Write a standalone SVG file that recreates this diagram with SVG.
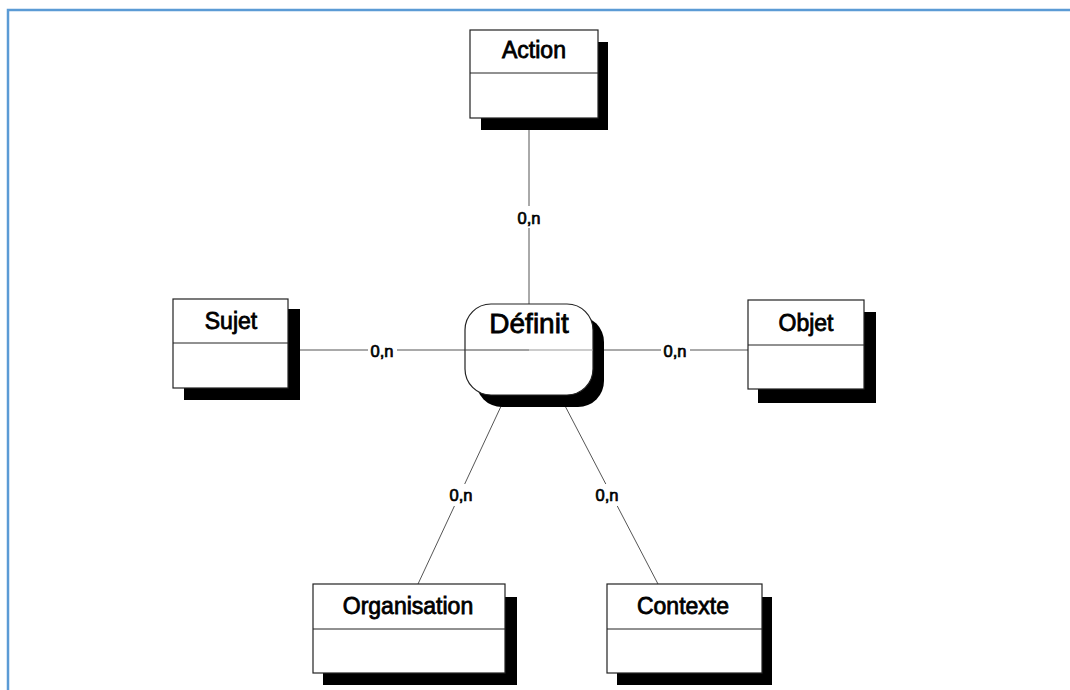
<svg xmlns="http://www.w3.org/2000/svg" width="1070" height="690" viewBox="0 0 1070 690">
<style>
.sh{fill:#000}
.bx{fill:#fff;stroke:#222;stroke-width:1.2}
.dv{stroke:#222;stroke-width:1}
.t{font-family:"Liberation Sans",Arial,sans-serif;font-size:23px;fill:#000;stroke:#000;stroke-width:0.8;text-anchor:middle}
.c{stroke:#555;stroke-width:1;fill:none}
.lb{font-family:"Liberation Sans",Arial,sans-serif;font-size:16.5px;fill:#000;stroke:#000;stroke-width:0.7;text-anchor:middle}
.lbg{fill:#fff}
</style>
<rect x="0" y="0" width="1070" height="690" fill="#fff"/>
<path d="M8 690 V10 H1070" fill="none" stroke="#5b9bd5" stroke-width="2.5"/>
<g id="connectors">
<line class="c" x1="529" y1="130" x2="529" y2="304"/>
<line class="c" x1="288" y1="350" x2="529" y2="350"/>
<line class="c" x1="529" y1="350" x2="748" y2="350" stroke="#888"/>
<line class="c" x1="503" y1="402" x2="418" y2="584"/>
<line class="c" x1="563" y1="402" x2="658" y2="584"/>
</g>
<g id="Definit">
<rect class="sh" x="476" y="316" width="128" height="91" rx="26"/>
<rect class="bx" x="465" y="304" width="128" height="91" rx="26"/>
<text class="t" x="529" y="333" style="font-size:28px">Définit</text>
<line x1="465" y1="350" x2="529" y2="350" stroke="#444" stroke-width="1"/>
<line x1="529" y1="350" x2="593" y2="350" stroke="#999" stroke-width="1"/>
</g>
<g id="labels">
<rect class="lbg" x="515" y="206" width="28" height="22"/>
<text class="lb" x="529" y="224">0,n</text>
<rect class="lbg" x="368" y="341" width="29" height="18"/>
<text class="lb" x="382" y="357">0,n</text>
<rect class="lbg" x="661" y="341" width="29" height="18"/>
<text class="lb" x="675" y="357">0,n</text>
<rect class="lbg" x="447" y="484" width="29" height="22"/>
<text class="lb" x="461" y="501">0,n</text>
<rect class="lbg" x="593" y="484" width="29" height="22"/>
<text class="lb" x="607" y="501">0,n</text>
</g>
<g id="Action">
<rect class="sh" x="481" y="42" width="127" height="88"/>
<rect class="bx" x="470" y="30" width="128" height="88"/>
<line class="dv" x1="470" y1="73" x2="598" y2="73"/>
<text class="t" x="534" y="58">Action</text>
</g>
<g id="Sujet">
<rect class="sh" x="184" y="309" width="116" height="91"/>
<rect class="bx" x="173" y="299" width="115" height="89"/>
<line class="dv" x1="173" y1="343" x2="288" y2="343"/>
<text class="t" x="231" y="329">Sujet</text>
</g>
<g id="Objet">
<rect class="sh" x="758" y="312" width="118" height="91"/>
<rect class="bx" x="748" y="300" width="116" height="89"/>
<line class="dv" x1="748" y1="345" x2="864" y2="345"/>
<text class="t" x="806" y="331">Objet</text>
</g>
<g id="Organisation">
<rect class="sh" x="323" y="597" width="194" height="88"/>
<rect class="bx" x="313" y="584" width="192" height="89"/>
<line class="dv" x1="313" y1="629" x2="505" y2="629"/>
<text class="t" x="408" y="614">Organisation</text>
</g>
<g id="Contexte">
<rect class="sh" x="617" y="597" width="155" height="88"/>
<rect class="bx" x="607" y="584" width="155" height="89"/>
<line class="dv" x1="607" y1="629" x2="762" y2="629"/>
<text class="t" x="683" y="614">Contexte</text>
</g>
</svg>
